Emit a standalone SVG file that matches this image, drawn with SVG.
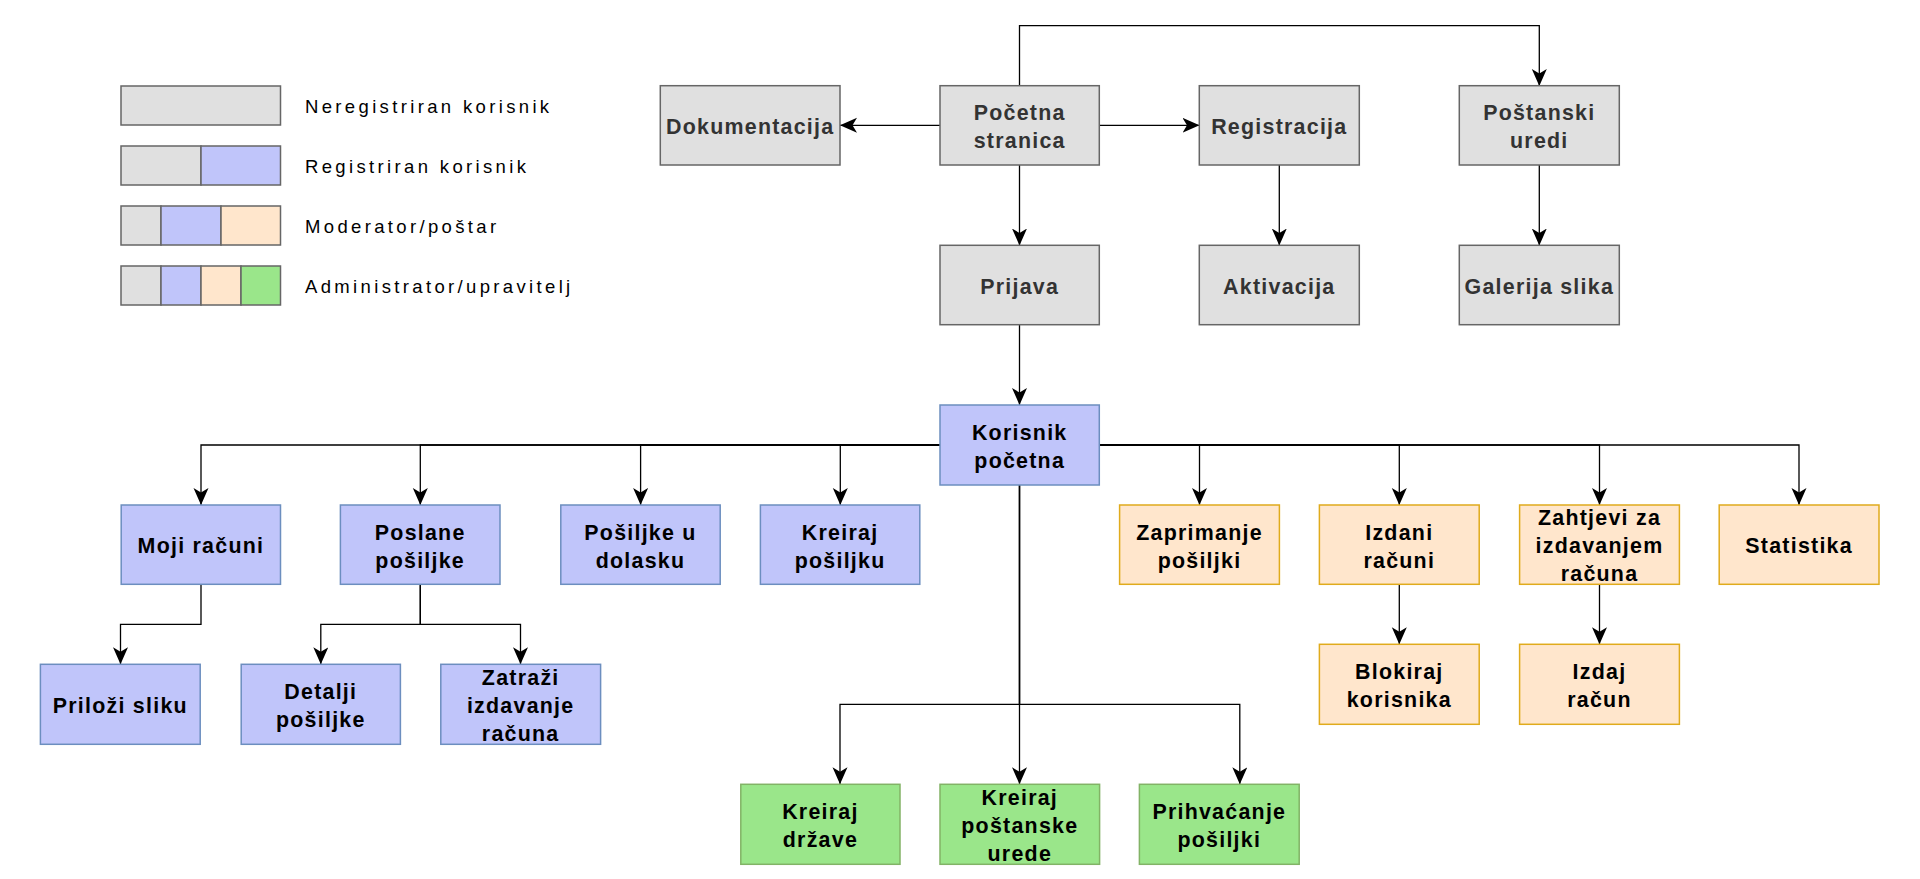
<svg xmlns="http://www.w3.org/2000/svg" width="1920" height="879" viewBox="0 0 1920 879">
<defs>
<style>
.g rect{fill:#e0e0e0;stroke:#666666;stroke-width:1.5}
.b rect{fill:#c0c5fa;stroke:#6c8ebf;stroke-width:1.5}
.o rect{fill:#ffe6cc;stroke:#e0ab1c;stroke-width:1.5}
.v rect{fill:#9ae68a;stroke:#82b366;stroke-width:1.5}
.node text{font-family:"Liberation Sans",Arial,sans-serif;font-weight:bold;font-size:21.4px;letter-spacing:1.25px;text-anchor:middle;fill:#000}
.g text{fill:#333333}
.leg text{font-family:"Liberation Sans",Arial,sans-serif;font-size:18.5px;letter-spacing:3.35px;fill:#000}
.leg rect{stroke:#666666;stroke-width:1.5}
.c path{fill:none;stroke:#000;stroke-width:1.3}
</style>
<marker id="ar" markerUnits="userSpaceOnUse" markerWidth="18" markerHeight="16" refX="17" refY="7.5" orient="auto" viewBox="0 0 18 16">
<path d="M0,0 L17,7.5 L0,15 L4.5,7.5 Z" fill="#000"/>
</marker>
</defs>
<rect width="1920" height="879" fill="#ffffff"/>

<g id="legend" class="leg">
<rect x="121" y="86" width="159.5" height="39" fill="#e0e0e0"/>
<text x="305" y="113">Neregistriran korisnik</text>
<rect x="121" y="146" width="80" height="39" fill="#e0e0e0"/>
<rect x="201" y="146" width="79.5" height="39" fill="#c0c5fa"/>
<text x="305" y="173">Registriran korisnik</text>
<rect x="121" y="206" width="40" height="39" fill="#e0e0e0"/>
<rect x="161" y="206" width="60" height="39" fill="#c0c5fa"/>
<rect x="221" y="206" width="59.5" height="39" fill="#ffe6cc"/>
<text x="305" y="233">Moderator/poštar</text>
<rect x="121" y="266" width="40" height="39" fill="#e0e0e0"/>
<rect x="161" y="266" width="40" height="39" fill="#c0c5fa"/>
<rect x="201" y="266" width="40" height="39" fill="#ffe6cc"/>
<rect x="241" y="266" width="39.5" height="39" fill="#9ae68a"/>
<text x="305" y="293">Administrator/upravitelj</text>
</g>

<g id="connectors" class="c">
<path d="M940,125.3 H840" marker-end="url(#ar)"/>
<path d="M1099.5,125.3 H1199.5" marker-end="url(#ar)"/>
<path d="M1019.5,86 V25.7 H1539.3 V86" marker-end="url(#ar)"/>
<path d="M1019.5,165 V245.5" marker-end="url(#ar)"/>
<path d="M1279.3,165 V245.5" marker-end="url(#ar)"/>
<path d="M1539.3,165 V245.5" marker-end="url(#ar)"/>
<path d="M1019.5,325 V405" marker-end="url(#ar)"/>
<path d="M940,445 H201 V505" marker-end="url(#ar)"/>
<path d="M940,445 H420.3 V505" marker-end="url(#ar)"/>
<path d="M940,445 H640.6 V505" marker-end="url(#ar)"/>
<path d="M940,445 H840.3 V505" marker-end="url(#ar)"/>
<path d="M1099.5,445 H1199.5 V505" marker-end="url(#ar)"/>
<path d="M1099.5,445 H1399.3 V505" marker-end="url(#ar)"/>
<path d="M1099.5,445 H1599.5 V505" marker-end="url(#ar)"/>
<path d="M1099.5,445 H1799 V505" marker-end="url(#ar)"/>
<path d="M201,584.5 V624.3 H120.5 V664.3" marker-end="url(#ar)"/>
<path d="M420.3,584.5 V624.3 H320.8 V664.3" marker-end="url(#ar)"/>
<path d="M420.3,584.5 V624.3 H520.5 V664.3" marker-end="url(#ar)"/>
<path d="M1399.3,584.5 V644.3" marker-end="url(#ar)"/>
<path d="M1599.5,584.5 V644.3" marker-end="url(#ar)"/>
<path d="M1019.5,485 V784.3" marker-end="url(#ar)"/>
<path d="M1019.5,485 V704.3 H840 V784.3" marker-end="url(#ar)"/>
<path d="M1019.5,485 V704.3 H1239.8 V784.3" marker-end="url(#ar)"/>
</g>

<g id="dokumentacija" class="node g"><rect x="660.3" y="85.7" width="179.7" height="79.3"/><text><tspan x="750.2" y="134">Dokumentacija</tspan></text></g>
<g id="pocetna" class="node g"><rect x="940" y="85.7" width="159.3" height="79.3"/><text><tspan x="1019.7" y="120.3">Početna</tspan><tspan x="1019.7" y="148.3">stranica</tspan></text></g>
<g id="registracija" class="node g"><rect x="1199.3" y="85.7" width="160" height="79.3"/><text><tspan x="1279.3" y="134">Registracija</tspan></text></g>
<g id="postanski" class="node g"><rect x="1459.3" y="85.7" width="160" height="79.3"/><text><tspan x="1539.3" y="120.3">Poštanski</tspan><tspan x="1539.3" y="148.3">uredi</tspan></text></g>
<g id="prijava" class="node g"><rect x="940" y="245.3" width="159.3" height="79.4"/><text><tspan x="1019.7" y="293.7">Prijava</tspan></text></g>
<g id="aktivacija" class="node g"><rect x="1199.3" y="245.3" width="160" height="79.4"/><text><tspan x="1279.3" y="293.7">Aktivacija</tspan></text></g>
<g id="galerija" class="node g"><rect x="1459.3" y="245.3" width="160" height="79.4"/><text><tspan x="1539.3" y="293.7">Galerija slika</tspan></text></g>

<g id="korisnik" class="node b"><rect x="940" y="405" width="159.3" height="80"/><text><tspan x="1019.7" y="439.6">Korisnik</tspan><tspan x="1019.7" y="467.6">početna</tspan></text></g>
<g id="moji" class="node b"><rect x="121.2" y="505" width="159.3" height="79.3"/><text><tspan x="200.9" y="553.4">Moji računi</tspan></text></g>
<g id="poslane" class="node b"><rect x="340.4" y="505" width="159.6" height="79.3"/><text><tspan x="420.2" y="539.7">Poslane</tspan><tspan x="420.2" y="567.7">pošiljke</tspan></text></g>
<g id="dolazak" class="node b"><rect x="560.8" y="505" width="159.4" height="79.3"/><text><tspan x="640.5" y="539.7">Pošiljke u</tspan><tspan x="640.5" y="567.7">dolasku</tspan></text></g>
<g id="kreirajposiljku" class="node b"><rect x="760.4" y="505" width="159.4" height="79.3"/><text><tspan x="840.1" y="539.7">Kreiraj</tspan><tspan x="840.1" y="567.7">pošiljku</tspan></text></g>
<g id="prilozi" class="node b"><rect x="40.4" y="664.3" width="159.8" height="80"/><text><tspan x="120.3" y="713">Priloži sliku</tspan></text></g>
<g id="detalji" class="node b"><rect x="241.2" y="664.3" width="159.2" height="80"/><text><tspan x="320.8" y="699.3">Detalji</tspan><tspan x="320.8" y="727.3">pošiljke</tspan></text></g>
<g id="zatrazi" class="node b"><rect x="440.8" y="664.3" width="159.8" height="80"/><text><tspan x="520.7" y="685">Zatraži</tspan><tspan x="520.7" y="713">izdavanje</tspan><tspan x="520.7" y="741">računa</tspan></text></g>

<g id="zaprimanje" class="node o"><rect x="1119.6" y="505" width="159.8" height="79.3"/><text><tspan x="1199.5" y="539.7">Zaprimanje</tspan><tspan x="1199.5" y="567.7">pošiljki</tspan></text></g>
<g id="izdani" class="node o"><rect x="1319.4" y="505" width="159.8" height="79.3"/><text><tspan x="1399.3" y="539.7">Izdani</tspan><tspan x="1399.3" y="567.7">računi</tspan></text></g>
<g id="zahtjevi" class="node o"><rect x="1519.6" y="505" width="159.8" height="79.3"/><text><tspan x="1599.5" y="525.4">Zahtjevi za</tspan><tspan x="1599.5" y="553.4">izdavanjem</tspan><tspan x="1599.5" y="581.4">računa</tspan></text></g>
<g id="statistika" class="node o"><rect x="1719.2" y="505" width="159.8" height="79.3"/><text><tspan x="1799.1" y="553.4">Statistika</tspan></text></g>
<g id="blokiraj" class="node o"><rect x="1319.4" y="644.3" width="159.8" height="80"/><text><tspan x="1399.3" y="679.3">Blokiraj</tspan><tspan x="1399.3" y="707.3">korisnika</tspan></text></g>
<g id="izdaj" class="node o"><rect x="1519.6" y="644.3" width="159.8" height="80"/><text><tspan x="1599.5" y="679.3">Izdaj</tspan><tspan x="1599.5" y="707.3">račun</tspan></text></g>

<g id="drzave" class="node v"><rect x="740.8" y="784.3" width="159.2" height="80"/><text><tspan x="820.4" y="819.3">Kreiraj</tspan><tspan x="820.4" y="847.3">države</tspan></text></g>
<g id="urede" class="node v"><rect x="940" y="784.3" width="159.6" height="80"/><text><tspan x="1019.8" y="805">Kreiraj</tspan><tspan x="1019.8" y="833">poštanske</tspan><tspan x="1019.8" y="861">urede</tspan></text></g>
<g id="prihvacanje" class="node v"><rect x="1139.4" y="784.3" width="159.8" height="80"/><text><tspan x="1219.3" y="819.3">Prihvaćanje</tspan><tspan x="1219.3" y="847.3">pošiljki</tspan></text></g>
</svg>
